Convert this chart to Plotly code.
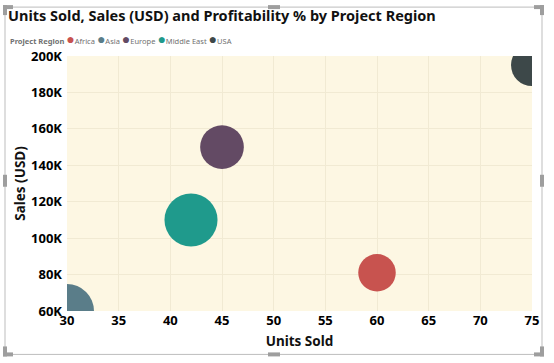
import plotly.graph_objects as go

# ---- data ----
regions = ["Africa", "Asia", "Europe", "Middle East", "USA"]
units_sold = [60, 30, 45, 42, 75]
sales_usd = [81000, 60000, 150000, 110000, 195000]
profitability = [14, 29, 19, 28, 17.5]
colors = ["#C8534F", "#5A7D89", "#634A64", "#1F9A8C", "#3D4849"]

x_ticks = [30, 35, 40, 45, 50, 55, 60, 65, 70, 75]
y_ticks = [60000, 80000, 100000, 120000, 140000, 160000, 180000, 200000]
y_tick_labels = ["60K", "80K", "100K", "120K", "140K", "160K", "180K", "200K"]

W, H = 554, 363
L, R, T, B = 67, 532, 56, 311.5
FONT = "Noto Sans"


def px(xp):
    return (xp - L) / (R - L)


def py(yp):
    return (B - yp) / (B - T)


max_d = 54
sizeref = 2.0 * max(profitability) / (max_d ** 2)

fig = go.Figure()
for reg, xv, yv, pv, c in zip(regions, units_sold, sales_usd, profitability, colors):
    fig.add_trace(go.Scatter(
        x=[xv], y=[yv], mode="markers", name=reg,
        marker=dict(size=[pv], sizemode="area", sizeref=sizeref,
                    color=c, opacity=1, line=dict(width=0)),
        cliponaxis=True,
        showlegend=False,
    ))

# legend built from the category list
parts = ["<b>Project Region</b>"]
for reg, c in zip(regions, colors):
    parts.append(f"<span style='color:{c};font-size:14px'>●</span>{reg}")
legend_text = " ".join(parts)

shapes = []
frame_col = "#BDBDBD"
handle_col = "#9E9E9E"
fx0, fx1, fy0, fy1 = 5, 542, 7, 355
shapes.append(dict(type="rect", xref="paper", yref="paper",
                   x0=px(fx0), x1=px(fx1), y0=py(fy1), y1=py(fy0),
                   line=dict(color=frame_col, width=1), fillcolor="rgba(0,0,0,0)", layer="above"))
# handles (middle)
for (hx0, hy0, hx1, hy1) in [
    (268, 5, 280, 9), (268, 353, 280, 357),
    (3, 175, 7, 187), (540, 175, 544, 187),
]:
    shapes.append(dict(type="rect", xref="paper", yref="paper",
                       x0=px(hx0), x1=px(hx1), y0=py(hy1), y1=py(hy0),
                       line=dict(width=0), fillcolor=handle_col, layer="above"))
# corner handles (L shapes)
for (cx, cy, dx, dy) in [(fx0, fy0, 1, 1), (fx1, fy0, -1, 1), (fx0, fy1, 1, -1), (fx1, fy1, -1, -1)]:
    shapes.append(dict(type="rect", xref="paper", yref="paper",
                       x0=px(cx - 2 * dx), x1=px(cx + 8 * dx),
                       y0=py(cy - 2 * dy), y1=py(cy + 2 * dy),
                       line=dict(width=0), fillcolor=handle_col, layer="above"))
    shapes.append(dict(type="rect", xref="paper", yref="paper",
                       x0=px(cx - 2 * dx), x1=px(cx + 2 * dx),
                       y0=py(cy - 2 * dy), y1=py(cy + 8 * dy),
                       line=dict(width=0), fillcolor=handle_col, layer="above"))

fig.update_layout(
    width=W, height=H,
    margin=dict(l=L, r=W - R, t=T, b=H - B),
    paper_bgcolor="white",
    plot_bgcolor="#FDF7E3",
    font=dict(family=FONT, color="#000000"),
    title=dict(text="<b>Units Sold, Sales (USD) and Profitability % by Project Region</b>",
               x=8 / W, xref="container", xanchor="left",
               y=1 - 16 / H, yanchor="middle",
               font=dict(size=14.5, family=FONT, color="#111111")),
    xaxis=dict(range=[30, 75], tickvals=x_ticks, ticktext=[str(v) for v in x_ticks],
               showgrid=True, gridcolor="#F1EAD3", gridwidth=1, zeroline=False,
               showline=False, ticks="",
               tickfont=dict(size=13, family=FONT, color="#000000", weight="bold"),
               title=dict(text="<b>Units Sold</b>", font=dict(size=13.5, family=FONT, color="#111111"),
                          standoff=8)),
    yaxis=dict(range=[60000, 200000], tickvals=y_ticks, ticktext=y_tick_labels,
               showgrid=True, gridcolor="#F1EAD3", gridwidth=1, zeroline=False,
               showline=False, ticks="", ticklabelstandoff=4,
               tickfont=dict(size=13, family=FONT, color="#000000", weight="bold"),
               title=dict(text="<b>Sales (USD)</b>", font=dict(size=13.5, family=FONT, color="#111111"),
                          standoff=2)),
    annotations=[dict(text=legend_text, xref="paper", yref="paper",
                      x=px(8), y=py(38), xanchor="left", yanchor="middle",
                      showarrow=False,
                      font=dict(size=7.5, family=FONT, color="#707070"))],
    shapes=shapes,
)

fig.write_html("out.html", config={"displayModeBar": False},
               post_script="document.body.style.margin='0px';")
